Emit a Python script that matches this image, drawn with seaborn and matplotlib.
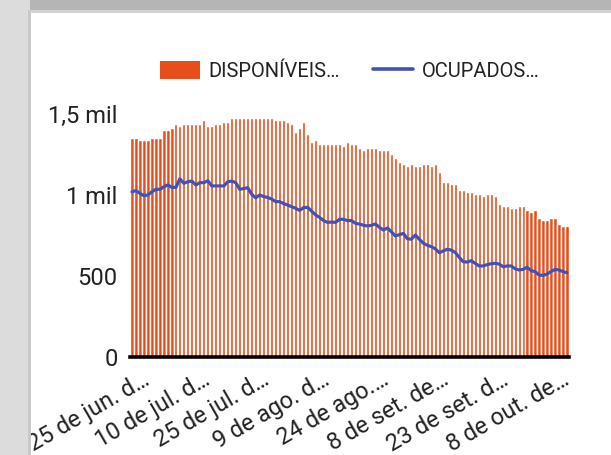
import numpy as np
import pandas as pd
import matplotlib.pyplot as plt
import matplotlib.patches as mpatches
from matplotlib.lines import Line2D
import seaborn as sns

# dias (um por barra)
dias = pd.date_range("2020-06-21", "2020-10-08", freq="D")

disponiveis = [
    1352, 1352, 1340, 1340, 1340, 1352, 1352, 1352, 1401, 1401,
    1414, 1438, 1426, 1438, 1438, 1438, 1438, 1438, 1463, 1426,
    1426, 1438, 1438, 1451, 1451, 1475, 1475, 1475, 1475, 1475,
    1475, 1475, 1475, 1475, 1475, 1475, 1463, 1463, 1463, 1451,
    1438, 1389, 1414, 1451, 1377, 1327, 1340, 1315, 1315, 1315,
    1315, 1315, 1315, 1302, 1327, 1315, 1315, 1290, 1278, 1290,
    1290, 1290, 1278, 1278, 1278, 1253, 1228, 1204, 1191, 1179,
    1191, 1179, 1179, 1191, 1191, 1179, 1191, 1142, 1080, 1080,
    1068, 1068, 1031, 1031, 1019, 1019, 1006, 1006, 994, 1006,
    1006, 994, 944, 932, 932, 920, 920, 932, 932, 907,
    895, 907, 858, 846, 846, 858, 858, 821, 809, 809,
]

ocupados = [
    1020, 1027, 1010, 996, 1000, 1020, 1035, 1035, 1051, 1062,
    1047, 1047, 1100, 1072, 1082, 1086, 1062, 1076, 1076, 1088,
    1056, 1056, 1056, 1056, 1082, 1086, 1076, 1035, 1040, 1045,
    1004, 983, 1000, 990, 985, 975, 959, 959, 947, 938,
    928, 918, 905, 922, 924, 901, 877, 862, 842, 831,
    833, 831, 850, 850, 842, 842, 825, 821, 813, 809,
    813, 821, 800, 784, 796, 773, 747, 755, 763, 730,
    727, 753, 727, 702, 690, 681, 668, 644, 655, 665,
    660, 645, 615, 588, 586, 595, 578, 562, 562, 570,
    576, 578, 574, 557, 562, 562, 545, 537, 541, 554,
    533, 527, 506, 504, 512, 527, 541, 537, 527, 520,
]

datas_ticks = pd.date_range("2020-06-25", periods=8, freq="15D")
rotulos_x = ["25 de jun. d…", "10 de jul. d…", "25 de jul. d…", "9 de ago. d…",
             "24 de ago.…", "8 de set. de…", "23 de set. d…", "8 de out. de…"]
valores_y = [0, 500, 1000, 1500]
rotulos_y = ["0", "500", "1 mil", "1,5 mil"]

cor_barra = "#e84e1b"
cor_linha = "#4053b5"

sns.set_style("white")
plt.rcParams["font.family"] = ["Roboto", "DejaVu Sans"]

df = pd.DataFrame({"Dia": dias.strftime("%Y-%m-%d"),
                   "Disponiveis": disponiveis,
                   "Ocupados": ocupados})

fig = plt.figure(figsize=(6.11, 4.55), dpi=100)
fig.patch.set_facecolor("white")
W, H = 611, 455
# fundo cinza da tela (por cima, para cortar o rótulo da esquerda)
fig.add_artist(mpatches.Rectangle((0, 0), 30 / W, 1, transform=fig.transFigure,
                                  facecolor="#dcdcdc", edgecolor="none", zorder=5))
fig.add_artist(mpatches.Rectangle((28 / W, 0), 3 / W, 1 - 10 / H, transform=fig.transFigure,
                                  facecolor="#c8c8c8", edgecolor="none", zorder=5))
fig.add_artist(mpatches.Rectangle((30 / W, 1 - 10 / H), 1, 10 / H, transform=fig.transFigure,
                                  facecolor="#b5b5b5", edgecolor="none", zorder=5))
fig.add_artist(mpatches.Rectangle((30 / W, 1 - 13 / H), 1, 3 / H, transform=fig.transFigure,
                                  facecolor="#d2d2d2", edgecolor="none", zorder=5))

ax = fig.add_axes([130 / W, (H - 357) / H, 439 / W, 243 / H])
ax.set_facecolor("none")

sns.barplot(data=df, x="Dia", y="Disponiveis", color=cor_barra, saturation=1,
            width=0.8, ax=ax, zorder=2)
sns.lineplot(x=np.arange(len(df)), y=df["Ocupados"], color=cor_linha,
             linewidth=2.3, ax=ax, zorder=3)

ax.set_xlim(-0.5, len(df) - 0.5)
ax.set_ylim(0, 1500)
for s in ["top", "right", "left"]:
    ax.spines[s].set_visible(False)
ax.spines["bottom"].set_color("black")
ax.spines["bottom"].set_linewidth(2.6)
ax.spines["bottom"].set_zorder(4)

pos_ticks = [list(dias).index(d) for d in datas_ticks]
ax.set_xticks(pos_ticks)
ax.set_xticklabels(rotulos_x, rotation=30, ha="right", va="center",
                   rotation_mode="anchor", fontsize=16.8, color="#222222")
ax.set_yticks(valores_y)
ax.set_yticklabels(rotulos_y, fontsize=17, color="#222222")
ax.tick_params(axis="both", length=0)
ax.tick_params(axis="y", pad=9)
ax.tick_params(axis="x", pad=15)
ax.set_xlabel("")
ax.set_ylabel("")

handles = [mpatches.Patch(facecolor=cor_barra, edgecolor="none"),
           Line2D([0], [0], color=cor_linha, linewidth=2.6)]
fig.legend(handles, ["DISPONÍVEIS…", "OCUPADOS…"], loc="center",
           bbox_to_anchor=(350 / W, 1 - 71 / H), ncol=2, frameon=False,
           fontsize=14.5, handlelength=1.95, handleheight=1.0, handletextpad=0.45,
           columnspacing=1.65, labelcolor="#222222")

fig.savefig("out.png", dpi=100)
